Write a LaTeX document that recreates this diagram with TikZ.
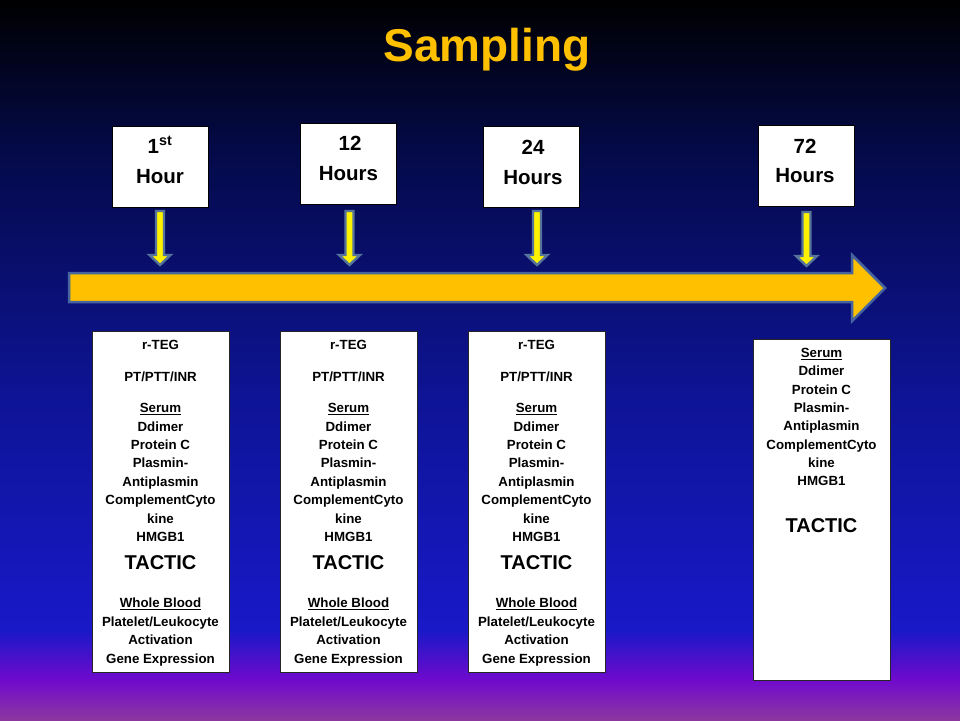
\documentclass[tikz,border=0pt]{standalone}
\usepackage{fontspec}
\setmainfont{Liberation Sans}
\definecolor{gold}{RGB}{255,192,0}
\definecolor{arrowedge}{RGB}{70,100,160}
\definecolor{sedge}{RGB}{85,115,155}
\definecolor{bgA}{RGB}{0,0,0}
\definecolor{bgB}{RGB}{4,10,72}
\definecolor{bgC}{RGB}{14,20,150}
\definecolor{bgD}{RGB}{25,25,200}
\definecolor{bgE}{RGB}{112,10,205}
\definecolor{bgF}{RGB}{140,55,160}
\tikzset{
  topbox/.style={draw=black, line width=0.8pt, fill=white, minimum width=96pt, minimum height=81pt, inner sep=0pt},
  listbox/.style={draw=black!85, line width=0.8pt, fill=white, minimum width=137pt, minimum height=341pt, inner sep=0pt},
  stxt/.style={anchor=base, inner sep=0pt, font=\fontsize{13.3}{16}\selectfont\bfseries},
  htxt/.style={anchor=base, inner sep=0pt, font=\fontsize{20.5}{24}\selectfont\bfseries},
  ttxt/.style={anchor=base, inner sep=0pt, text=gold, font=\fontsize{46}{50}\selectfont\bfseries},
  bigarrow/.style={fill=gold, draw=arrowedge, line width=2.5pt, line join=miter},
  smallarrow/.style={fill=yellow, draw=sedge, line width=2.4pt, line join=miter},
}
\newcommand\bigfnt{\fontsize{20}{24}\selectfont\bfseries}
\begin{document}
\begin{tikzpicture}[x=1pt,y=-1pt]
\useasboundingbox (0,0) rectangle (960,720);
% background
\shade[top color=bgA, bottom color=bgB] (0,0) rectangle (960,150.5);
\shade[top color=bgB, bottom color=bgC] (0,150) rectangle (960,400.5);
\shade[top color=bgC, bottom color=bgD] (0,400) rectangle (960,630.5);
\shade[top color=bgD, bottom color=bgE] (0,630) rectangle (960,680.5);
\shade[top color=bgE, bottom color=bgF] (0,680) rectangle (960,720);
% title
\node[ttxt] (title) at (487,61) {Sampling};
% top boxes
\node[topbox] (t1) at (160,166.5) {};
\node[topbox] (t2) at (348.5,163.5) {};
\node[topbox] (t3) at (531,167) {};
\node[topbox] (t4) at (806.5,165.5) {};
\node[htxt] (t1a) at (160,153.3) {1\textsuperscript{st}};
\node[htxt] (t1b) at (160,183.3) {Hour};
\node[htxt] (t2a) at (350,150.3) {12};
\node[htxt] (t2b) at (348.5,180.3) {Hours};
\node[htxt] (t3a) at (533,154.3) {24};
\node[htxt] (t3b) at (533,184.3) {Hours};
\node[htxt] (t4a) at (805,153.3) {72};
\node[htxt] (t4b) at (805,182.3) {Hours};
% big arrow
\filldraw[bigarrow] (69,273) -- (852,273) -- (852,255) -- (885,288) -- (852,321) -- (852,302) -- (69,302) -- cycle;
% small arrows
\coordinate (a1) at (160,211);
\coordinate (a2) at (349.5,211);
\coordinate (a3) at (537,211);
\coordinate (a4) at (806.5,212);
\foreach \k in {1,2,3,4}{
  \filldraw[smallarrow] (a\k) ++(-4,0) -- ++(8,0) -- ++(0,44) -- ++(6.5,0) -- ++(-10.5,10) -- ++(-10.5,-10) -- ++(6.5,0) -- cycle;
}
% list boxes
\foreach \n/\cx in {1/160.5,2/348.5,3/536.5}{
  \node[listbox] (b\n) at (\cx,501.5) {};
  \node[stxt] (b\n-1) at (\cx,331+18.8) {r-TEG};
  \node[stxt] (b\n-2) at (\cx,331+50.8) {PT/PTT/INR};
  \foreach \t/\dy [count=\i from 3] in {{\underline{Serum}}/81.8, Ddimer/100.8, Protein C/118.8, Plasmin-/136.8, Antiplasmin/155.8, ComplementCyto/173.8, kine/192.8, HMGB1/210.8, {\bigfnt TACTIC}/238.2, {\underline{Whole Blood}}/276.8, Platelet{/}Leukocyte/295.8, Activation/313.8, Gene Expression/332.8}{
    \node[stxt] (b\n-\i) at (\cx,331+\dy) {\t};
  }
}
\node[listbox] (b4) at (821.5,509.5) {};
\foreach \t/\dy [count=\i] in {{\underline{Serum}}/18.8, Ddimer/36.8, Protein C/55.8, Plasmin-/73.8, Antiplasmin/91.8, ComplementCyto/110.8, kine/128.8, HMGB1/146.8, {\bigfnt TACTIC}/193.2}{
  \node[stxt] (b4-\i) at (821.5,339+\dy) {\t};
}
\end{tikzpicture}
\end{document}
